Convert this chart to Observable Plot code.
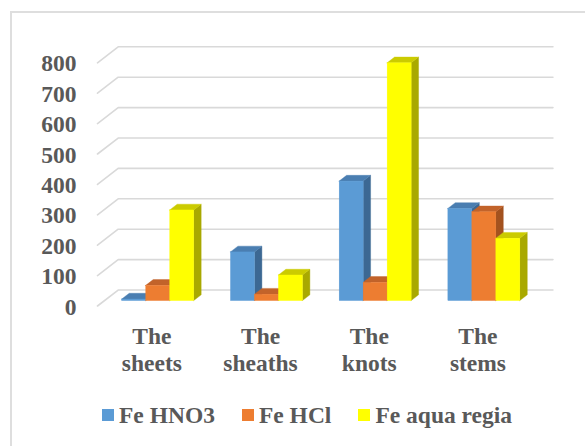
<!DOCTYPE html>
<html>
<head>
<meta charset="utf-8">
<script src="https://cdn.jsdelivr.net/npm/d3@7"></script>
<script src="https://cdn.jsdelivr.net/npm/@observablehq/plot@0.6"></script>
<style>
  html, body { margin: 0; padding: 0; background: #ffffff; }
  #wrap { position: relative; width: 585px; height: 446px; overflow: hidden; background: #ffffff; }
  #frame { position: absolute; left: 10px; top: 11px; width: 640px; height: 480px; border: 2px solid #dedede; box-sizing: border-box; }
  #chart { position: absolute; left: 0; top: 0; }
  #legend { position: absolute; left: 102px; top: 403px; display: flex; align-items: center; gap: 27px;
    font-family: "Liberation Serif", "Times New Roman", serif; font-weight: bold; font-size: 23.5px; line-height: 24px; color: #595959; white-space: nowrap; }
  .item { display: flex; align-items: center; gap: 5px; }
  .sw { width: 12px; height: 12px; display: inline-block; }
</style>
</head>
<body>
<div id="wrap">
  <div id="frame"></div>
  <div id="chart"></div>
  <div id="legend"></div>
</div>
<script>
// Iron content by plant part and extraction method
const categories = ["The\nsheets", "The\nsheaths", "The\nknots", "The\nstems"];
const seriesNames = ["Fe HNO3", "Fe HCl", "Fe aqua regia"];
const feHNO3 = [5, 160, 393, 303];
const feHCl = [50, 21, 60, 292];
const feAquaRegia = [298, 84, 782, 205];
const yTicks = [0, 100, 200, 300, 400, 500, 600, 700, 800];

// face colours per series: front, top, side
const palette = [
  {front: "#5B9BD5", top: "#4A7EB1", side: "#3C6893"},
  {front: "#ED7D31", top: "#C2632A", side: "#A3521F"},
  {front: "#FFFF00", top: "#CBCB00", side: "#A9A900"}
];

// pseudo-3D geometry, in scale units (x: category bands, y: value units)
const DEPTH_X = 0.19;    // full floor depth, horizontal shift
const DEPTH_Y = 52.6;    // full floor depth, vertical shift
const BAR_FRONT = 0.31;  // depth fraction of bar front faces
const BAR_BACK = 0.67;   // depth fraction of bar back faces
const GROUP_PAD = 0.169; // inset of the bar group inside each band
const BAR_W = 0.2207;    // width of one bar

const seriesValues = [feHNO3, feHCl, feAquaRegia];

// bars with their projected faces
const bars = [];
seriesValues.forEach((vals, s) => {
  vals.forEach((v, c) => {
    const u0 = c + GROUP_PAD + s * BAR_W;
    bars.push({
      s, c, v, id: `${s}-${c}`,
      xlf: u0 + BAR_FRONT * DEPTH_X,
      xrf: u0 + BAR_W + BAR_FRONT * DEPTH_X,
      xlb: u0 + BAR_BACK * DEPTH_X,
      xrb: u0 + BAR_W + BAR_BACK * DEPTH_X,
      yf0: BAR_FRONT * DEPTH_Y,
      yb0: BAR_BACK * DEPTH_Y,
      yf: v + BAR_FRONT * DEPTH_Y,
      yb: v + BAR_BACK * DEPTH_Y
    });
  });
});

const sidePts = bars.flatMap(b => [
  {id: b.id, s: b.s, x: b.xrf, y1: b.yf0, y2: b.yf},
  {id: b.id, s: b.s, x: b.xrb, y1: b.yb0, y2: b.yb}
]);
const topPts = bars.flatMap(b => [
  {id: b.id, s: b.s, x: b.xlf, y1: b.yf, y2: b.yf},
  {id: b.id, s: b.s, x: b.xlb, y1: b.yf, y2: b.yb},
  {id: b.id, s: b.s, x: b.xrf, y1: b.yf, y2: b.yb},
  {id: b.id, s: b.s, x: b.xrb, y1: b.yb, y2: b.yb}
]);

// gridlines: front edge, diagonal to the back wall, then across it
const gridPts = yTicks.flatMap(v => [
  {v, x: 0, y: v},
  {v, x: DEPTH_X, y: v + DEPTH_Y},
  {v, x: categories.length + DEPTH_X, y: v + DEPTH_Y}
]);

const FONT = "'Liberation Serif', 'Times New Roman', serif";
const marks = [
  Plot.line(gridPts, {x: "x", y: "y", z: "v", stroke: "#d9d9d9", strokeWidth: 1.6})
];
palette.forEach((p, s) => {
  marks.push(Plot.area(sidePts.filter(d => d.s === s), {x1: "x", y1: "y1", y2: "y2", z: "id", fill: p.side, stroke: p.side, strokeWidth: 0.4}));
});
palette.forEach((p, s) => {
  marks.push(Plot.area(topPts.filter(d => d.s === s), {x1: "x", y1: "y1", y2: "y2", z: "id", fill: p.top, stroke: p.top, strokeWidth: 0.4}));
});
palette.forEach((p, s) => {
  marks.push(Plot.rect(bars.filter(d => d.s === s), {x1: "xlf", x2: "xrf", y1: "yf0", y2: "yf", fill: p.front, stroke: p.front, strokeWidth: 0.4}));
});
marks.push(
  Plot.text(yTicks, {x: () => 0, y: d => d, text: d => String(d), textAnchor: "end", dx: -21, dy: 1,
    fontFamily: FONT, fontSize: 23.5, fontWeight: "bold", fill: "#595959"}),
  Plot.text(categories, {x: (d, i) => i + 0.5, y: () => 0, text: d => d, lineAnchor: "top", dy: 18.8, lineHeight: 1.15,
    fontFamily: FONT, fontSize: 23.5, fontWeight: "bold", fill: "#595959"})
);

const chart = Plot.plot({
  width: 585,
  height: 395,
  marginLeft: 97,
  marginRight: 53.2,
  marginTop: 62.3,
  marginBottom: 89.5,
  x: {domain: [0, categories.length], axis: null},
  y: {domain: [0, 800], axis: null},
  style: {background: "transparent", overflow: "visible", fontFamily: FONT, color: "#595959"},
  marks
});
document.getElementById("chart").appendChild(chart);

// legend
const legend = document.getElementById("legend");
seriesNames.forEach((name, i) => {
  const item = document.createElement("div");
  item.className = "item";
  const sw = document.createElement("span");
  sw.className = "sw";
  sw.style.background = palette[i].front;
  const label = document.createElement("span");
  label.textContent = name;
  item.appendChild(sw);
  item.appendChild(label);
  legend.appendChild(item);
});
</script>
</body>
</html>
